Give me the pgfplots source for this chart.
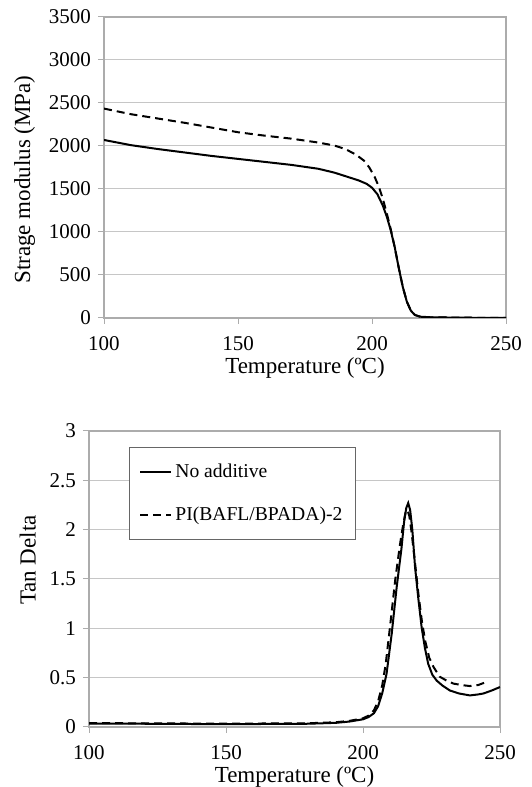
\documentclass[border=0pt]{standalone}
\usepackage{pgfplots}
\pgfplotsset{compat=1.18}
\usepackage{fontspec}
\setmainfont{Liberation Serif}

\pgfplotsset{
  dmastyle/.style={
    scale only axis,
    anchor=south west,
    xmin=100, xmax=250,
    xtick={100,150,200,250},
    ymajorgrids,
    grid style={gray!45, line width=0.5pt},
    axis line style={gray!65, line width=0.6pt},
    tick style={gray!65, line width=0.5pt},
    tick align=outside,
    major tick length=3pt,
    xtick pos=bottom, ytick pos=left,
    scaled y ticks=false,
    /pgf/number format/1000 sep={},
    /pgf/number format/assume math mode=true,
    ticklabel style={font=\fontsize{10.5}{12}\selectfont},
    xticklabel style={yshift=-2.5pt},
    label style={font=\fontsize{11.5}{13}\selectfont},
    xlabel style={yshift=3pt},
    xlabel={Temperature (ºC)},
  }
}

\begin{document}
\begin{tikzpicture}
\path[use as bounding box] (0,0) rectangle (265.5pt,393.5pt);

% storage modulus
\begin{axis}[dmastyle,
  at={(52pt,234.5pt)}, width=201pt, height=150.5pt,
  ymin=0, ymax=3500, ytick={0,500,...,3500},
  ylabel={Strage modulus (MPa)},
  ylabel style={at={(ticklabel cs:0.46)}},
]
\addplot[black, line width=1pt] coordinates {
(100,2070) (110,2010) (120,1965) (130,1925) (140,1885) (150,1850)
(160,1815) (170,1780) (180,1735) (186,1690) (190,1650) (195,1600)
(198,1560) (200,1515) (202,1440) (204,1310) (205.5,1180) (207,1020)
(208.5,820) (210,580) (211.5,360) (213,190) (214.5,85) (216,35)
(218,15) (222,8) (230,5) (240,2) (250,0)
};
\addplot[black, line width=1pt, dash pattern=on 4pt off 2.5pt] coordinates {
(100,2435) (110,2370) (120,2320) (130,2270) (140,2215) (150,2160)
(160,2120) (170,2085) (180,2040) (186,2005) (190,1965) (194,1900)
(197,1830) (199,1750) (201,1640) (202.5,1530) (204,1390) (205.5,1220)
(207,1030) (208.5,820) (210,580) (211.5,360) (213,190) (214.5,85) (216,35)
(218,15) (222,8) (230,5) (240,2) (250,0)
};
\end{axis}

% tan delta
\begin{axis}[dmastyle,
  at={(44.5pt,30pt)}, width=205.5pt, height=148pt,
  ymin=0, ymax=3, ytick={0,0.5,...,3},
  ylabel={Tan Delta},
  ylabel style={at={(ticklabel cs:0.564)}},
  legend style={at={(0.097,0.946)}, anchor=north west,
    draw=gray!80!black, line width=0.5pt, fill=white,
    font=\fontsize{9.8}{12}\selectfont,
    row sep=9.5pt, inner xsep=5pt, inner ysep=6pt,
    nodes={inner xsep=1.5pt}},
  legend cell align=left,
  legend image code/.code={\draw[#1] (0cm,0cm) -- (15.5pt,0cm);},
]
\addplot[black, line width=1pt] coordinates {
(100,0.035) (120,0.033) (140,0.030) (160,0.030) (180,0.033) (190,0.042)
(195,0.055) (200,0.078) (202,0.10) (204,0.14) (205.5,0.21) (207,0.34)
(208.6,0.54) (210.5,0.95) (212.3,1.42) (214,1.80) (215,2.08) (215.8,2.22)
(216.5,2.27) (217.2,2.20) (218,2.00) (219,1.62) (220.2,1.30) (221.4,1.01)
(222.6,0.80) (223.8,0.64) (225.3,0.53) (226.9,0.47) (229,0.42) (231.7,0.37)
(235,0.34) (239,0.32) (242,0.33) (244,0.34) (247,0.37) (250,0.405)
};
\addlegendentry{No additive}
\addplot[black, line width=1pt, dash pattern=on 4pt off 2.5pt] coordinates {
(100,0.040) (120,0.037) (140,0.035) (160,0.035) (180,0.038) (190,0.048)
(195,0.062) (200,0.088) (202,0.115) (204,0.17) (205.5,0.26) (207,0.42)
(208.3,0.64) (210,1.05) (211.8,1.50) (213.5,1.85) (214.7,2.06) (215.5,2.17)
(216.2,2.20) (216.9,2.14) (217.7,1.98) (219,1.66) (220.3,1.33) (221.6,1.05)
(222.8,0.86) (224.2,0.70) (225.7,0.61) (228,0.51) (230.5,0.47) (233,0.44)
(236,0.425) (239,0.415) (242,0.425) (245,0.456)
};
\addlegendentry{PI(BAFL/BPADA)-2}
\end{axis}
\end{tikzpicture}
\end{document}
